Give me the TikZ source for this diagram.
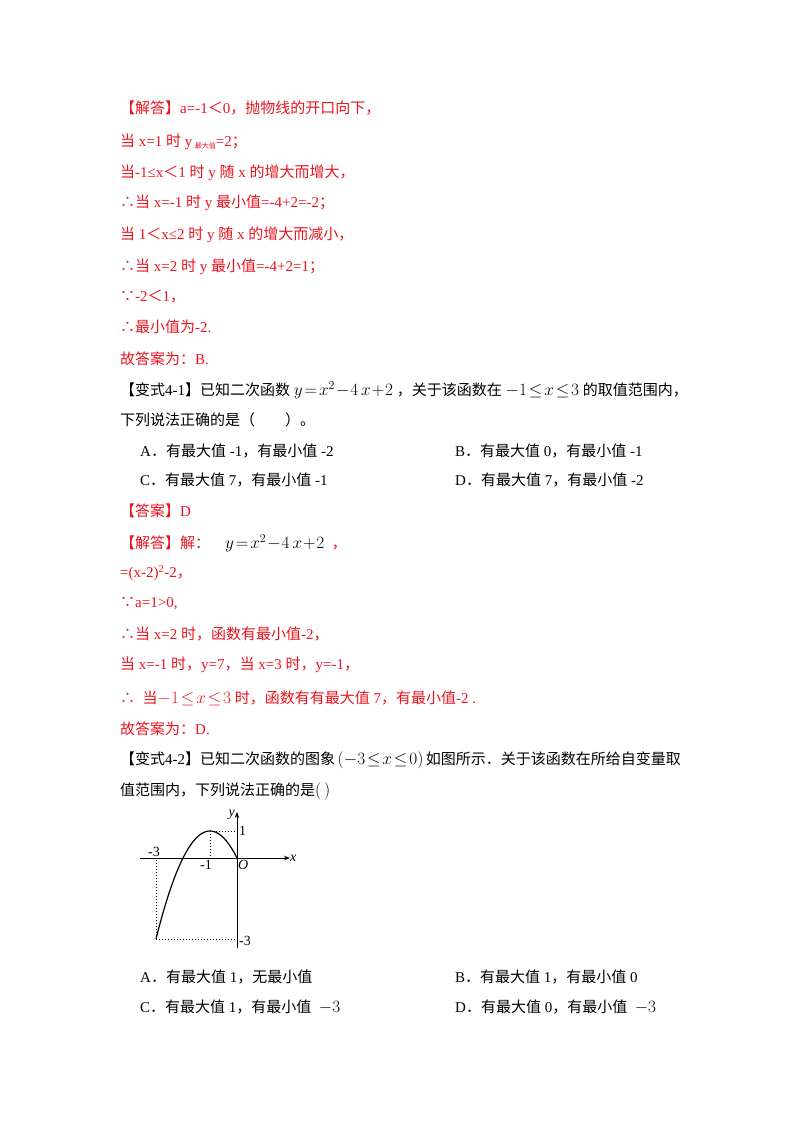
\documentclass[tikz,border=0pt]{standalone}
\usepackage{fontspec}
\usetikzlibrary{arrows.meta}
\setmainfont{Liberation Serif}
\newfontfamily\cjk{Noto Sans CJK SC}
\newcommand{\zh}[1]{{\cjk #1}}
\newcommand{\bm}[1]{{\fontsize{18}{18}\selectfont$#1$}}
\definecolor{rd}{RGB}{235,20,30}
\begin{document}
\begin{tikzpicture}[x=1pt,y=-1pt,
  ln/.style={anchor=west,inner sep=0pt,font=\fontsize{15}{18}\selectfont},
  red/.style={ln,text=rd},
  ax/.style={line width=1pt,-{Stealth[length=6pt]}},
  dt/.style={dotted,line width=1pt},
  lab/.style={inner sep=1pt,font=\fontsize{14}{15}\selectfont}]
\useasboundingbox[fill=white] (0,0) rectangle (800,1132);
\node[red] (l1) at (120,108) {\zh{【解答】}a=-1\zh{＜}0\zh{，抛物线的开口向下，}};
\node[red] (l2) at (120,142) {\zh{当} x=1 \zh{时} y\,\raisebox{-2pt}{\fontsize{7}{7}\selectfont\zh{最大值}}=2\zh{；}};
\node[red] (l3) at (120,173) {\zh{当}-1≤x\zh{＜}1 \zh{时} y \zh{随} x \zh{的增大而增大，}};
\node[red] (l4) at (120,203) {\zh{∴当} x=-1 \zh{时} y \zh{最小值}=-4+2=-2\zh{；}};
\node[red] (l5) at (120,235) {\zh{当} 1\zh{＜}x≤2 \zh{时} y \zh{随} x \zh{的增大而减小，}};
\node[red] (l6) at (120,267) {\zh{∴当} x=2 \zh{时} y \zh{最小值}=-4+2=1\zh{；}};
\node[red] (l7) at (120,297) {\zh{∵}-2\zh{＜}1\zh{，}};
\node[red] (l8) at (120,327) {\zh{∴最小值为}-2.};
\node[red] (l9) at (120,359) {\zh{故答案为：}B.};
\node[ln] (q1) at (120,390) {\zh{【变式}4-1\zh{】已知二次函数}\ \bm{y\!=\!x^2\!-\!4\,x\!+\!2}\ \zh{，关于该函数在}\ \bm{-1\!\le\! x\!\le\!3}\ \zh{的取值范围内，}};
\node[ln] (q2) at (120,420) {\zh{下列说法正确的是（　　）。}};
\node[ln] (oA) at (140,451) {A\zh{．有最大值} -1\zh{，有最小值} -2};
\node[ln] (oB) at (455,451) {B\zh{．有最大值} 0\zh{，有最小值} -1};
\node[ln] (oC) at (140,480) {C\zh{．有最大值} 7\zh{，有最小值} -1};
\node[ln] (oD) at (455,480) {D\zh{．有最大值} 7\zh{，有最小值} -2};
\node[red] (a1) at (120,511) {\zh{【答案】}D};
\node[red] (s1) at (120,543) {\zh{【解答】解：}\quad\textcolor{black}{\bm{y\!=\!x^2\!-\!4\,x\!+\!2}}\ \ \zh{，}};
\node[red] (s2) at (120,573) {=(x-2)\textsuperscript{2}-2\zh{，}};
\node[red] (s3) at (120,604) {\zh{∵}a=1\textgreater0,};
\node[red] (s4) at (120,634) {\zh{∴当} x=2 \zh{时，函数有最小值}-2\zh{，}};
\node[red] (s5) at (120,665) {\zh{当} x=-1 \zh{时，}y=7\zh{，当} x=3 \zh{时，}y=-1\zh{，}};
\node[red] (s6) at (120,698) {\zh{∴}\ \ \zh{当}\bm{-1\!\le\! x\!\le\!3}\ \zh{时，函数有有最大值} 7\zh{，有最小值}-2 .};
\node[red] (s7) at (120,729) {\zh{故答案为：}D.};
\node[ln] (q3) at (120,760) {\zh{【变式}4-2\zh{】已知二次函数的图象}\,\bm{(-3\!\le\! x\!\le\!0)}\,\zh{如图所示．关于该函数在所给自变量取}};
\node[ln] (q4) at (120,791) {\zh{值范围内，下列说法正确的是}\bm{(\,)}};
% graph
\coordinate (O) at (237,858);
\coordinate (xl) at (140,858);
\coordinate (xr) at (290,858);
\coordinate (yb) at (237,948);
\coordinate (yt) at (237,812);
\draw[ax] (xl) -- (xr);
\draw[ax] (yb) -- (yt);
\coordinate (P) at (156,939);
\coordinate (V) at (210,831);
\draw[line width=1.2pt,domain=-3:0,samples=60] plot ({237+27*\x},{858-27*(1-(\x+1)*(\x+1))});
\draw[dt] (P) -- (156,858);
\draw[dt] (P) -- (237,939);
\draw[dt] (V) -- (210,858);
\draw[dt] (V) -- (237,831);
\node[lab,anchor=south] (m3) at (154,858) {-3};
\node[lab,anchor=north] (m1) at (206,859) {-1};
\node[lab,anchor=north west] (o) at (237,859) {\itshape O};
\node[lab,anchor=west] (xlab) at (289,858) {\itshape x};
\node[lab,anchor=east] (ylab) at (236,815) {\itshape y};
\node[lab,anchor=west] (one) at (238,831) {1};
\node[lab,anchor=west] (mt) at (238,941) {-3};
\node[ln] (pA) at (140,977) {A\zh{．有最大值} 1\zh{，无最小值}};
\node[ln] (pB) at (455,977) {B\zh{．有最大值} 1\zh{，有最小值} 0};
\node[ln] (pC) at (140,1007) {C\zh{．有最大值} 1\zh{，有最小值}\ \ \bm{-3}};
\node[ln] (pD) at (455,1007) {D\zh{．有最大值} 0\zh{，有最小值}\ \ \bm{-3}};
\end{tikzpicture}
\end{document}
